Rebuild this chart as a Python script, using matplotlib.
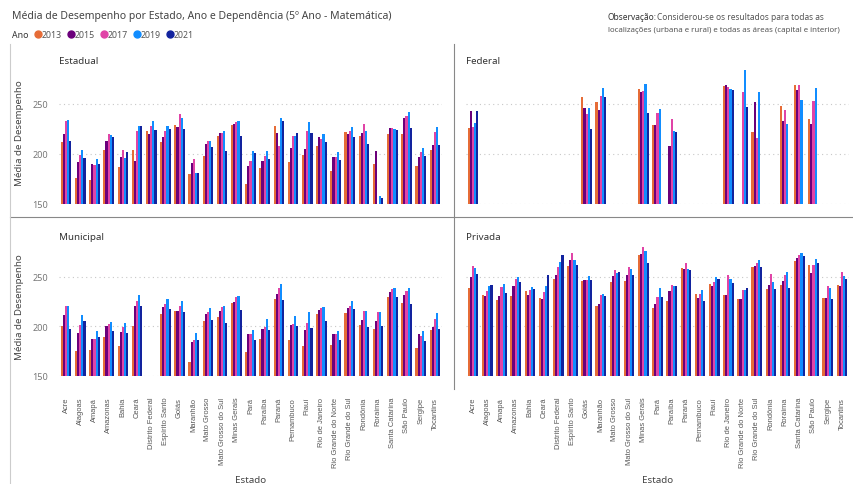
import matplotlib
matplotlib.use("Agg")
import matplotlib.pyplot as plt
from matplotlib.lines import Line2D
import numpy as np

plt.rcParams['font.family'] = ['Noto Sans', 'DejaVu Sans']

states = ["Acre", "Alagoas", "Amapá", "Amazonas", "Bahia", "Ceará", "Distrito Federal",
          "Espírito Santo", "Goiás", "Maranhão", "Mato Grosso", "Mato Grosso do Sul",
          "Minas Gerais", "Pará", "Paraíba", "Paraná", "Pernambuco", "Piauí",
          "Rio de Janeiro", "Rio Grande do Norte", "Rio Grande do Sul", "Rondônia",
          "Roraima", "Santa Catarina", "São Paulo", "Sergipe", "Tocantins"]
years = ["2013", "2015", "2017", "2019", "2021"]
colors = ["#E66C37", "#6B007B", "#E044A7", "#118DFF", "#12239E"]
N = None

# rows: states, columns: years 2013..2021
estadual = [
    [212, 220, 233, 234, 213], [176, 192, 199, 204, 196], [174, 190, 189, 195, 190],
    [204, 213, 220, 219, 217], [187, 197, 204, 196, 202], [204, 193, 223, 228, 228],
    [223, 220, 228, 233, 224], [212, 217, 223, 228, 225], [229, 227, 240, 236, 225],
    [180, 191, 195, 181, 181], [198, 210, 213, 213, 207], [218, 221, 221, 223, 203],
    [229, 230, 232, 233, 218], [170, 188, 193, 203, 201], [186, 193, 198, 203, 195],
    [228, 221, 208, 236, 233], [192, 206, 218, 218, 221], [199, 205, 223, 232, 221],
    [208, 217, 215, 220, 212], [183, 197, 197, 202, 194], [222, 220, 223, 227, 217],
    [218, 221, 230, 223, 210], [190, 203, N, 158, 156], [220, 226, 226, 225, 224],
    [220, 236, 238, 242, 226], [188, 197, 202, 206, 198], [204, 209, 222, 227, 209],
]
federal = [
    [226, 243, 227, 231, 243], [N]*5, [N]*5, [N]*5, [N]*5, [N]*5, [N]*5, [N]*5,
    [257, 246, 240, 246, 225], [252, 244, 258, 266, 257], [N]*5, [N]*5,
    [265, 262, 263, 270, 241], [229, 229, 241, 245, N], [N, 208, 235, 223, 222],
    [N]*5, [N]*5, [N]*5, [268, 269, 267, 265, 264], [N, N, 262, 284, 247],
    [222, 252, 216, 262, N], [N]*5, [248, 233, 244, 230, N], [269, 264, 269, 254, N],
    [235, 230, 253, 266, N], [N]*5, [N]*5,
]
municipal = [
    [200, 211, 220, 220, 197], [175, 193, 201, 211, 205], [176, 187, 187, 195, 189],
    [189, 200, 202, 204, 195], [180, 194, 199, 203, 193], [200, 220, 226, 232, 220],
    [N]*5, [212, 219, 223, 228, 217], [215, 215, 221, 226, 214],
    [164, 184, 186, 193, 186], [205, 212, 214, 218, 206], [209, 215, 219, 220, 203],
    [224, 225, 230, 231, 216], [174, 192, 192, 196, 186], [187, 197, 199, 207, 196],
    [228, 233, 239, 243, 227], [186, 201, 202, 210, 200], [180, 196, 203, 214, 198],
    [212, 216, 218, 219, 205], [181, 192, 192, 195, 186], [213, 218, 221, 226, 217],
    [201, 206, 215, 215, 199], [197, 205, 214, 214, 200], [230, 235, 238, 239, 230],
    [224, 232, 236, 239, 223], [178, 192, 190, 195, 185], [196, 199, 207, 213, 197],
]
privada = [
    [239, 250, 261, 259, 253], [232, 231, 236, 241, 242], [227, 231, 240, 243, 234],
    [231, 241, 248, 250, 245], [236, 232, 237, 240, 238], [229, 228, 235, 241, 252],
    [248, 252, 260, 265, 272], [261, 267, 274, 267, 262], [246, 247, 247, 251, 247],
    [221, 223, 232, 233, 231], [245, 251, 257, 254, 255], [246, 252, 260, 258, 252],
    [272, 273, 280, 276, 264], [218, 223, 230, 239, 230], [226, 236, 242, 241, 241],
    [259, 258, 264, 258, 257], [233, 229, 233, 237, 226], [243, 241, 245, 250, 248],
    [232, 232, 252, 248, 244], [228, 228, 237, 237, 239], [260, 261, 264, 267, 260],
    [238, 242, 253, 245, 238], [242, 246, 252, 255, 239], [266, 269, 272, 274, 271],
    [262, 254, 262, 268, 264], [229, 229, 241, 239, 228], [242, 241, 255, 251, 248],
]
yticks = [150, 200, 250]

W, H = 854, 485
fig = plt.figure(figsize=(W / 100, H / 100), dpi=100)
fig.patch.set_facecolor("white")


def px_axes(x0, y0, x1, y1):
    return fig.add_axes([x0 / W, 1 - y1 / H, (x1 - x0) / W, (y1 - y0) / H])


def ftext(xpx, ypx, s, **kw):
    return fig.text(xpx / W, 1 - ypx / H, s, ha="left", va="center", **kw)


panels = [
    ("Estadual", estadual, (59, 62, 442, 205), 293, True, False),
    ("Federal", federal, (466, 62, 849, 205), 293, False, False),
    ("Municipal", municipal, (59, 237, 442, 377), 291, True, True),
    ("Privada", privada, (466, 237, 849, 377), 291, False, True),
]

bw = 0.15
x = np.arange(len(states))
for name, data, box, ytop, left, bottom in panels:
    ax = px_axes(*box)
    arr = np.array([[np.nan if v is None else v for v in row] for row in data], dtype=float)
    for j in range(5):
        vals = arr[:, j]
        ax.bar(x + (j - 2) * bw, vals - 150, bottom=150, width=bw, color=colors[j],
               linewidth=0)
    ax.set_xlim(-0.5, len(states) - 0.5)
    ax.set_ylim(150, ytop)
    for s in ax.spines.values():
        s.set_visible(False)
    ax.set_yticks(yticks)
    for yv in yticks:
        ax.axhline(yv, color="#C8C8C8", lw=0.8, ls=(0, (1, 3)), zorder=0)
    ax.tick_params(length=0, labelsize=6.5, labelcolor="#777777", pad=8)
    if not left:
        ax.set_yticklabels([])
    else:
        ax.set_ylabel("Média de Desempenho", fontsize=7, color="#444444", labelpad=6)
    ax.set_xticks(x)
    if bottom:
        ax.set_xticklabels(states, rotation=90, fontsize=5.4, color="#555555",
                           family=['Liberation Sans', 'DejaVu Sans'])
        ax.tick_params(axis="x", pad=15)
        ax.set_xlabel("Estado", fontsize=7, color="#444444", labelpad=6)
    else:
        ax.set_xticklabels([])
    ax.text(0.0, 1.0, name, transform=ax.transAxes, fontsize=7, color="#333333",
            ha="left", va="center")

# separators
fig.add_artist(Line2D([454 / W, 454 / W], [1 - 45 / H, 1 - 390 / H], color="#888888", lw=0.8))
fig.add_artist(Line2D([10 / W, 1], [1 - 218 / H, 1 - 218 / H], color="#888888", lw=0.8))
fig.add_artist(Line2D([10 / W, 10 / W], [1 - 45 / H, 0], color="#CCCCCC", lw=0.8))

# title
ftext(12, 17, "Média de Desempenho por Estado, Ano e Dependência (5º Ano - Matemática)",
      fontsize=7.5, color="#444444")

# legend
ly = 35
ftext(12, ly, "Ano", fontsize=6.3, fontweight="bold", color="#333333")
lx = 38
for c, yr in zip(colors, years):
    fig.add_artist(Line2D([lx / W], [1 - ly / H], marker="o", markersize=5, color=c, lw=0))
    ftext(lx + 4, ly, yr, fontsize=6.3, color="#555555")
    lx += 33

# observation
ftext(608, 17, "Observação:", fontsize=6.0, fontweight="bold", color="#333333")
ftext(657, 17, "Considerou-se os resultados para todas as", fontsize=6.0, color="#555555")
ftext(608, 30, "localizações (urbana e rural) e todas as áreas (capital e interior)",
      fontsize=5.7, color="#555555")

fig.savefig("out.png", dpi=100)
